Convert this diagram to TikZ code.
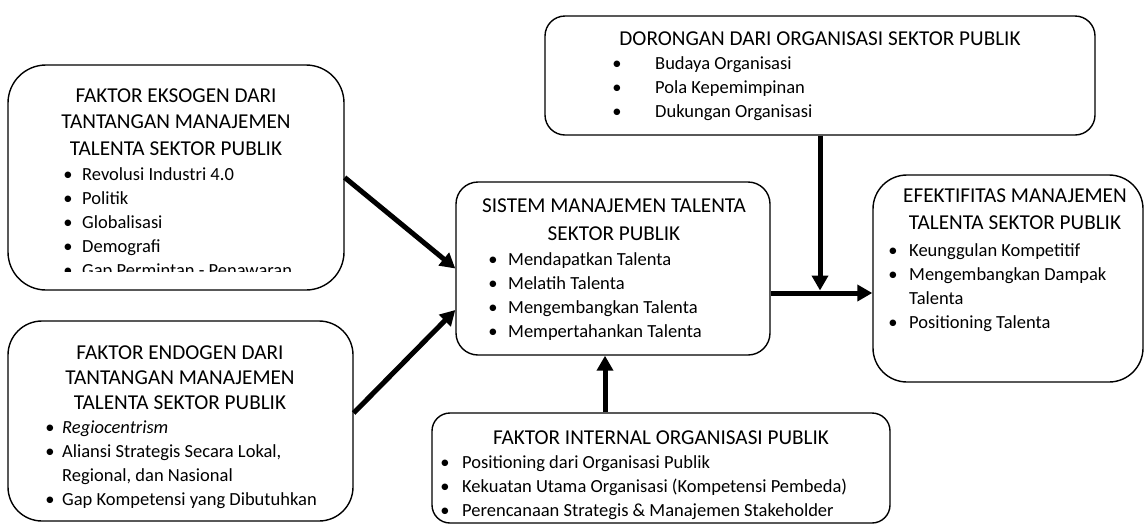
\documentclass[tikz,border=0pt]{standalone}
\usepackage{fontspec}
\setmainfont{Carlito}
\usetikzlibrary{arrows.meta,calc}
\tikzset{
  box/.style={draw=black, line width=1.4pt, rectangle, inner sep=0pt, fill=white},
  ttlf/.style={inner sep=0pt, font=\fontsize{21.2}{25}\selectfont, anchor=base},
  itf/.style={inner sep=0pt, font=\fontsize{18.5}{22}\selectfont},
  arr/.style={line width=5pt, -{Triangle[length=15pt,width=16pt]}},
  plain/.style={line width=5pt}
}
\newcommand\Ttl[3]{\node[ttlf] (#1) at (#2) {#3};}
\newcommand\Itm[5]{\node[itf,anchor=base] (#1b) at (#2,#4) {\textbullet};\node[itf,anchor=base west] (#1) at (#3,#4) {#5};}
\newcommand\Cnt[4]{\node[itf,anchor=base west] (#1) at (#2,#3) {#4};}
\begin{document}
\begin{tikzpicture}[x=1pt,y=-1pt]
\useasboundingbox (0,0) rectangle (1145,523);
% boxes
\node[box, minimum width=336pt, minimum height=225pt, rounded corners=38pt] (exo) at (176,177.5) {};
\node[box, minimum width=345pt, minimum height=200pt, rounded corners=34pt] (endo) at (180.5,421) {};
\node[box, minimum width=314pt, minimum height=173pt, rounded corners=22pt] (cen) at (613,268.5) {};
\node[box, minimum width=550pt, minimum height=119pt, rounded corners=20pt] (top) at (820,75.5) {};
\node[box, minimum width=270pt, minimum height=207pt, rounded corners=34pt] (rgt) at (1008,278.5) {};
\node[box, minimum width=458pt, minimum height=110pt, rounded corners=18pt] (bot) at (661,468) {};
% exogen text
\Ttl{e1}{176,102}{FAKTOR EKSOGEN DARI}
\Ttl{e2}{176,128.5}{TANTANGAN MANAJEMEN}
\Ttl{e3}{176,155}{TALENTA SEKTOR PUBLIK}
\begin{scope}
\clip (8,60) rectangle (344,271);
\Itm{ei1}{68}{82}{180}{Revolusi Industri 4.0}
\Itm{ei2}{68}{82}{204}{Politik}
\Itm{ei3}{68}{82}{228}{Globalisasi}
\Itm{ei4}{68}{82}{252}{Demografi}
\Itm{ei5}{68}{82}{276}{Gap Permintan - Penawaran}
\end{scope}
% endogen text
\Ttl{n1}{180,359}{FAKTOR ENDOGEN DARI}
\Ttl{n2}{180,384}{TANTANGAN MANAJEMEN}
\Ttl{n3}{180,409}{TALENTA SEKTOR PUBLIK}
\Itm{ni1}{50}{62}{433}{\itshape Regiocentrism}
\Itm{ni2}{50}{62}{457}{Aliansi Strategis Secara Lokal,}
\Cnt{ni2c}{62}{481}{Regional, dan Nasional}
\Itm{ni3}{50}{62}{505}{Gap Kompetensi yang Dibutuhkan}
% central text
\Ttl{c1}{614,212}{SISTEM MANAJEMEN TALENTA}
\Ttl{c2}{614,240}{SEKTOR PUBLIK}
\Itm{ci1}{493}{508}{265}{Mendapatkan Talenta}
\Itm{ci2}{493}{508}{289}{Melatih Talenta}
\Itm{ci3}{493}{508}{313}{Mengembangkan Talenta}
\Itm{ci4}{493}{508}{337}{Mempertahankan Talenta}
% top text
\Ttl{t1}{820,45}{DORONGAN DARI ORGANISASI SEKTOR PUBLIK}
\Itm{ti1}{617}{655}{69}{Budaya Organisasi}
\Itm{ti2}{617}{655}{93}{Pola Kepemimpinan}
\Itm{ti3}{617}{655}{117}{Dukungan Organisasi}
% right text
\Ttl{r1}{1015,202}{EFEKTIFITAS MANAJEMEN}
\Ttl{r2}{1015,229}{TALENTA SEKTOR PUBLIK}
\Itm{ri1}{893}{909}{256}{Keunggulan Kompetitif}
\Itm{ri2}{893}{909}{280}{Mengembangkan Dampak}
\Cnt{ri2c}{909}{304}{Talenta}
\Itm{ri3}{893}{909}{328}{Positioning Talenta}
% bottom text
\Ttl{b1}{661,444}{FAKTOR INTERNAL ORGANISASI PUBLIK}
\Itm{bi1}{445}{462}{468}{Positioning dari Organisasi Publik}
\Itm{bi2}{445}{462}{492}{Kekuatan Utama Organisasi (Kompetensi Pembeda)}
\Itm{bi3}{445}{462}{516}{Perencanaan Strategis \& Manajemen Stakeholder}
% connectors
\coordinate (j) at (top.south |- 0,293);
\draw[arr] (exo.east) -- (cen.west);
\draw[arr] ([yshift=8pt]endo.east) -- ([yshift=-41.5pt]cen.west);
\draw[arr] (cen.east |- j) -- (rgt.west |- j);
\draw[arr] (top.south) -- ([yshift=2.5pt]j);
\draw[arr] ([xshift=-8pt]bot.north -| cen.south) -- ([xshift=-8pt]cen.south);
\end{tikzpicture}
\end{document}
